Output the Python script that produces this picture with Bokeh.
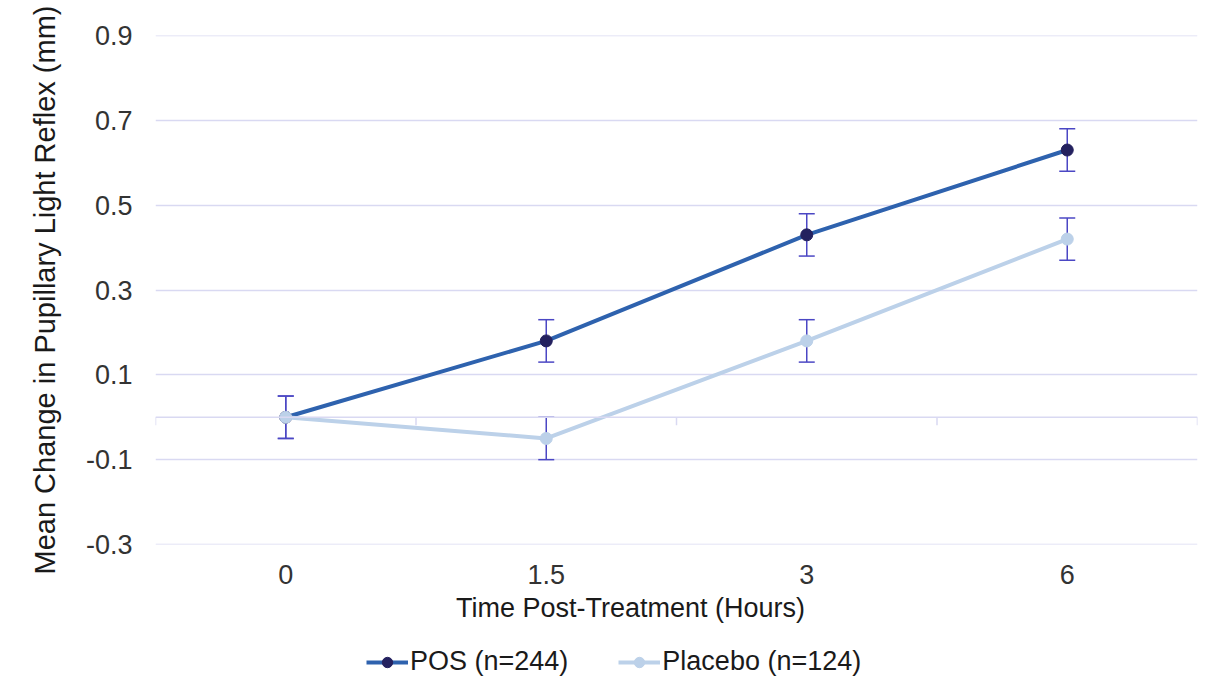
import numpy as np
from bokeh.plotting import figure
from bokeh.layouts import column
from bokeh.models import (ColumnDataSource, Range1d, FixedTicker, Span, Whisker,
                          TeeHead, Legend, LegendItem, Label)
from bokeh.embed import file_html
from bokeh.resources import INLINE

# ---- data ----
time_labels = ["0", "1.5", "3", "6"]
pos_mean = [0.0, 0.18, 0.43, 0.63]
pos_err = [0.05, 0.05, 0.05, 0.05]
pla_mean = [0.0, -0.05, 0.18, 0.42]
pla_err = [0.05, 0.05, 0.05, 0.05]
y_ticks = [-0.3, -0.1, 0.1, 0.3, 0.5, 0.7, 0.9]
series_names = ["POS (n=244)", "Placebo (n=124)"]
x_title = "Time Post-Treatment (Hours)"
y_title = "Mean Change in Pupillary Light Reflex (mm)"

FONT = "Liberation Sans"
FS = "27px"
GRID = "#D9D9F2"
POS_LINE = "#2E62AE"
POS_MARK = "#24215F"
PLA = "#BCD1E9"
ERR = "#4B47C4"

xs = np.arange(len(time_labels))
ymin, ymax = -0.3, 0.9
W = 1216
BL, BR, BT, BB = 155, 19, 35, 46
H1 = 590
FH = H1 - BT - BB

p = figure(width=W, height=H1, output_backend="svg", toolbar_location=None,
           x_range=Range1d(-0.5, len(time_labels) - 0.5), y_range=Range1d(ymin, ymax),
           min_border_left=BL, min_border_right=BR, min_border_top=BT, min_border_bottom=BB)
p.outline_line_color = None
p.background_fill_color = "white"
p.border_fill_color = "white"

# axes
p.xaxis.ticker = FixedTicker(ticks=list(xs))
p.xaxis.major_label_overrides = {int(i): t for i, t in zip(xs, time_labels)}
p.yaxis.ticker = FixedTicker(ticks=y_ticks)
p.yaxis.major_label_overrides = {t: f"{t:g}" for t in y_ticks}
for ax in (p.xaxis, p.yaxis):
    ax.axis_line_color = None
    ax.major_tick_line_color = None
    ax.minor_tick_line_color = None
    ax.major_label_text_font = FONT
    ax.major_label_text_font_size = FS
    ax.major_label_text_color = "#333333"
p.yaxis.axis_label = y_title
p.yaxis.axis_label_text_font = FONT
p.yaxis.axis_label_text_font_size = "29px"
p.yaxis.axis_label_text_font_style = "normal"
p.yaxis.axis_label_text_color = "#1A1A1A"
p.yaxis.major_label_standoff = 17
p.yaxis.axis_label_standoff = 22
p.xaxis.major_label_standoff = 14

p.xgrid.grid_line_color = None
p.ygrid.grid_line_color = GRID
p.ygrid.grid_line_width = 1.5

# gridlines at the range edges and the zero line with category boundary ticks
for loc in (ymin, ymax, 0):
    p.add_layout(Span(location=loc, dimension="width", line_color=GRID, line_width=1.5))
tick_len = 8 * (ymax - ymin) / FH
bounds = np.arange(len(time_labels) + 1) - 0.5
p.segment(x0=bounds, y0=np.zeros_like(bounds), x1=bounds, y1=-tick_len * np.ones_like(bounds),
          line_color=GRID, line_width=1.5)

src_pos = ColumnDataSource(dict(x=xs, y=pos_mean,
                                lo=np.array(pos_mean) - np.array(pos_err),
                                hi=np.array(pos_mean) + np.array(pos_err)))
src_pla = ColumnDataSource(dict(x=xs, y=pla_mean,
                                lo=np.array(pla_mean) - np.array(pla_err),
                                hi=np.array(pla_mean) + np.array(pla_err)))

for src in (src_pos, src_pla):
    w = Whisker(source=src, base="x", upper="hi", lower="lo", dimension="height",
                line_color=ERR, line_width=1.5,
                upper_head=TeeHead(size=16, line_color=ERR, line_width=1.5),
                lower_head=TeeHead(size=16, line_color=ERR, line_width=1.5))
    p.add_layout(w)

p.line("x", "y", source=src_pos, line_color=POS_LINE, line_width=4)
p.scatter("x", "y", source=src_pos, size=12, fill_color=POS_MARK, line_color=POS_MARK)
p.line("x", "y", source=src_pla, line_color=PLA, line_width=4)
p.scatter("x", "y", source=src_pla, size=12, fill_color=PLA, line_color=PLA)

# ---- x title and legend strip (second figure, same styles) ----
# the column aligns this strip's frame with the main frame (starting at x = BL)
W2 = 1176
H2 = 688 - H1
p2 = figure(width=W2, height=H2, output_backend="svg", toolbar_location=None,
            x_range=Range1d(100, 101), y_range=Range1d(100, 101),
            min_border_left=0, min_border_right=0, min_border_top=0, min_border_bottom=0)
p2.axis.visible = False
p2.grid.visible = False
p2.outline_line_color = None
p2.background_fill_color = "white"
p2.border_fill_color = "white"

p2.add_layout(Label(x=630 - BL, y=H2 - 17, x_units="screen", y_units="screen", text=x_title,
                    text_align="center", text_baseline="middle", text_font=FONT,
                    text_font_size=FS, text_color="#1A1A1A"))

a1 = p2.line("x", "y", source=src_pos, line_color=POS_LINE, line_width=4)
b1 = p2.scatter("x", "y", source=src_pos, size=12, fill_color=POS_MARK, line_color=POS_MARK)
a2 = p2.line("x", "y", source=src_pla, line_color=PLA, line_width=4)
b2 = p2.scatter("x", "y", source=src_pla, size=12, fill_color=PLA, line_color=PLA)

legend = Legend(items=[LegendItem(label=series_names[0], renderers=[a1, b1]),
                       LegendItem(label=series_names[1], renderers=[a2, b2])],
                orientation="horizontal", location=(366 - BL, 11))
legend.label_text_font = FONT
legend.label_text_font_size = FS
legend.label_text_color = "#1A1A1A"
legend.glyph_width = 42
legend.glyph_height = 26
legend.label_standoff = 2
legend.spacing = 50
legend.padding = 2
legend.margin = 0
legend.border_line_color = None
legend.background_fill_alpha = 0
p2.add_layout(legend, "center")

open("out.html", "w").write(file_html(column(p, p2, spacing=0), INLINE))
